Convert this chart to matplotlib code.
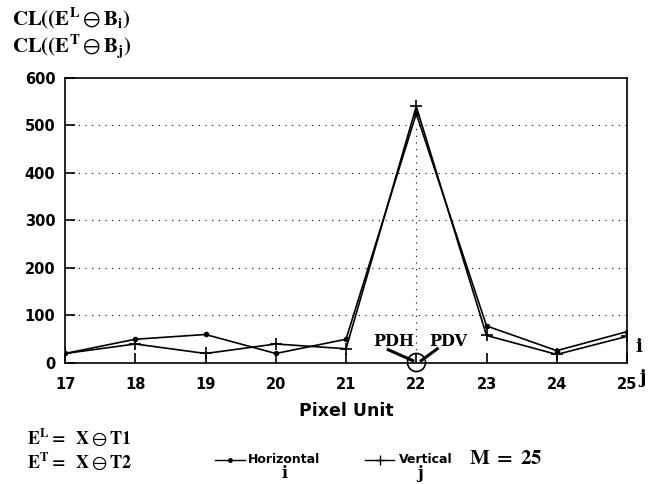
import matplotlib
matplotlib.use('Agg')
import matplotlib.pyplot as plt
from matplotlib.lines import Line2D

plt.rcParams['mathtext.fontset'] = 'stix'

# data
pixel = [17, 18, 19, 20, 21, 22, 23, 24, 25]
horizontal = [20, 50, 60, 20, 50, 525, 78, 26, 66]   # i
vertical = [20, 40, 20, 40, 30, 540, 58, 18, 56]     # j
yticks = [0, 100, 200, 300, 400, 500, 600]

fig = plt.figure(figsize=(6.52, 4.84), dpi=100)
ax = fig.add_axes([0.0997, 0.25, 0.862, 0.589])

ax.plot(pixel, horizontal, color='black', lw=1.2, marker='o', ms=3)
ax.plot(pixel, vertical, color='black', lw=1.2, marker='+', ms=9, mew=1.2)

ax.set_xlim(17, 25)
ax.set_ylim(0, 600)
ax.set_xticks(pixel)
ax.set_yticks(yticks)
ax.tick_params(direction='in', length=7, width=1.2, labelsize=10.5)
for lab in ax.get_xticklabels() + ax.get_yticklabels():
    lab.set_fontweight('bold')
ax.tick_params(axis='x', pad=10)
ax.tick_params(axis='y', pad=7)
for s in ax.spines.values():
    s.set_linewidth(1.2)

# dotted grid lines
for v in yticks[1:-1]:
    ax.axhline(v, color='black', lw=0.8, ls=(0, (1, 5)))
ax.plot([22, 22], [0, 500], color='black', lw=0.8, ls=(0, (1, 5)))

ax.set_xlabel('Pixel Unit', fontsize=12.5, fontweight='bold', labelpad=7)

# PDH / PDV marker at the peak position
ax.text(21.68, 28, 'PDH', family='DejaVu Serif', fontweight='bold', fontsize=11.5, ha='center', va='bottom')
ax.text(22.45, 28, 'PDV', family='DejaVu Serif', fontweight='bold', fontsize=11.5, ha='center', va='bottom')
ax.plot([21.6, 21.95], [28, 5], color='black', lw=2.2)
ax.plot([22.07, 22.3], [5, 30], color='black', lw=2.2)
ax.plot([22.0], [3], marker='o', ms=13, mfc='none', mec='black', mew=1.2, clip_on=False)
ax.text(25.12, 34, 'i', family='DejaVu Serif', fontweight='bold', fontsize=13, va='center')
ax.text(25.18, -32, 'j', family='DejaVu Serif', fontweight='bold', fontsize=13, va='center')

# y label text at the top left
fig.text(0.018, 0.962, r'$\mathbf{CL((E^{L}}\ominus\mathbf{B_{i})}$', fontsize=15, va='center')
fig.text(0.018, 0.903, r'$\mathbf{CL((E^{T}}\ominus\mathbf{B_{j})}$', fontsize=15, va='center')

# definitions below
fig.text(0.042, 0.097, r'$\mathbf{E^{L}=\ \ X}\ominus\mathbf{T1}$', fontsize=13, va='center')
fig.text(0.042, 0.047, r'$\mathbf{E^{T}=\ \ X}\ominus\mathbf{T2}$', fontsize=13, va='center')

# legend drawn by hand
ly = 0.05
fig.add_artist(Line2D([0.33, 0.3525, 0.375], [ly, ly, ly], color='black', lw=1, marker='o', ms=2.5,
                      markevery=[1], transform=fig.transFigure))
fig.text(0.38, ly, 'Horizontal', fontsize=9, fontweight='bold', va='center')
fig.text(0.437, 0.004, 'i', family='DejaVu Serif', fontsize=11.5, fontweight='bold', va='bottom', ha='center')
fig.add_artist(Line2D([0.56, 0.5825, 0.605], [ly, ly, ly], color='black', lw=1, marker='+', ms=7,
                      markevery=[1], transform=fig.transFigure))
fig.text(0.612, ly, 'Vertical', fontsize=9, fontweight='bold', va='center')
fig.text(0.645, 0.004, 'j', family='DejaVu Serif', fontsize=11.5, fontweight='bold', va='bottom', ha='center')
fig.text(0.72, 0.054, r'$\mathbf{M\ =\ 25}$', fontsize=15, va='center')

fig.savefig('out.png', dpi=100)
